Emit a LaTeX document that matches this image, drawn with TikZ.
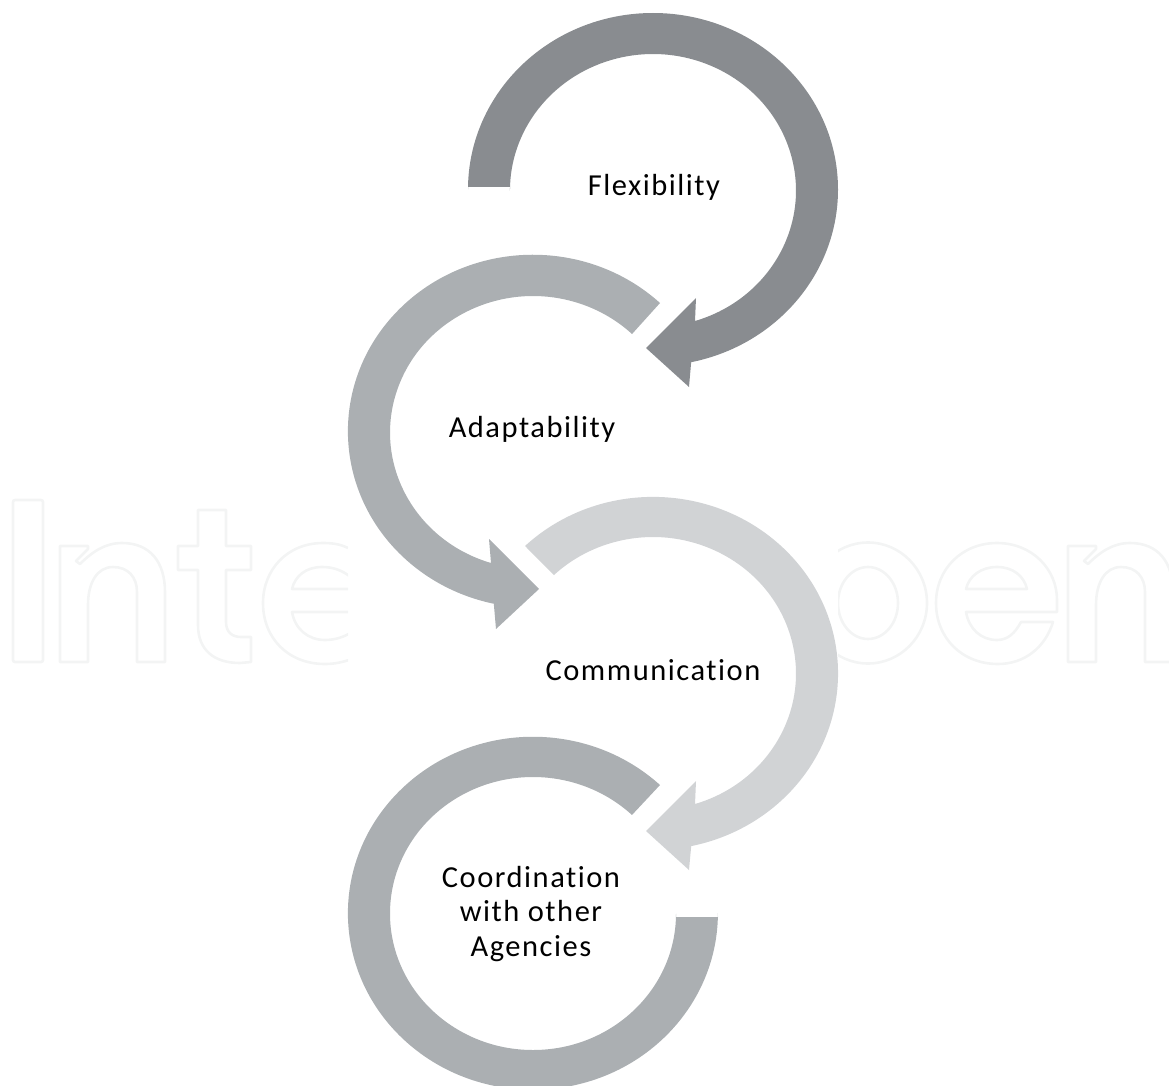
\documentclass[tikz,border=0pt]{standalone}
\usepackage{fontspec}
\setmainfont{Carlito}[LetterSpace=5,Ligatures={NoCommon,NoRequired,NoContextual,NoDiscretionary},RawFeature={-liga;-clig;-calt}]
\definecolor{ringA}{HTML}{898C90}
\definecolor{ringB}{HTML}{ABAFB2}
\definecolor{ringC}{HTML}{D1D3D5}
\definecolor{wm}{HTML}{F3F4F4}
\tikzset{
  lab/.style={font=\fontsize{30.5}{34.5}\selectfont,text=black,align=center,inner sep=0pt},
  wmark/.style={draw=wm,line width=2.6pt,line join=round},
  outer/.style={x radius=185pt,y radius=176.5pt},
  inner/.style={x radius=143pt,y radius=136.5pt}
}
\begin{document}
\begin{tikzpicture}[x=1pt,y=-1pt]
\useasboundingbox (0,0) rectangle (1169,1086);
\clip (0,0) rectangle (1169,1086);
% watermark, cut off by the white panel of the figure
\draw[wmark,rounded corners=2pt] (13,500) rectangle (43,662);
\begin{scope}[shift={(0,0)}]
\draw[wmark] (60,546) -- (88,546) -- (88,549) -- (76,561) -- (80,564)
  .. controls (92,552) and (105,543) .. (122,543)
  .. controls (150,543) and (165,562) .. (165,592) -- (165,662) -- (137,662) -- (137,592)
  .. controls (137,577) and (128,567) .. (113,567)
  .. controls (97,567) and (88,583) .. (88,605) -- (88,662) -- (60,662) -- cycle;
\end{scope}
\draw[wmark] (198,510) -- (226,510) -- (226,546) -- (251,546) -- (251,570) -- (226,570) -- (226,622)
  .. controls (226,632) and (232,637) .. (241,637) -- (251,637) -- (251,662) -- (240,663)
  .. controls (214,663) and (198,650) .. (198,625) -- (198,570) -- (178,570) -- (178,546) -- (198,546) -- cycle;
\begin{scope}
\clip (250,500) rectangle (348,680);
\draw[wmark] (348,548) .. controls (340,544) and (332,543) .. (323,543)
  .. controls (287,543) and (263,570) .. (263,603)
  .. controls (263,638) and (288,664) .. (325,664)
  .. controls (335,664) and (343,662) .. (352,659);
\draw[wmark] (352,589) -- (292,589) .. controls (295,576) and (306,567) .. (322,567) .. controls (333,567) and (342,570) .. (352,578);
\draw[wmark] (352,612) -- (292,612) .. controls (295,629) and (308,640) .. (325,640) .. controls (335,640) and (344,637) .. (352,632);
\end{scope}
\begin{scope}
\clip (838,500) rectangle (935,680);
\draw[wmark] (868,603) ellipse [x radius=59pt,y radius=60.5pt];
\draw[wmark] (868,603) ellipse [x radius=30pt,y radius=36pt];
\end{scope}
\draw[wmark] (1057,612) -- (966,612) .. controls (969,629) and (981,640) .. (997,640)
  .. controls (1008,640) and (1015,633) .. (1021,622) -- (1053,622)
  .. controls (1045,648) and (1024,664) .. (998,664)
  .. controls (962,664) and (936,638) .. (936,603)
  .. controls (936,569) and (962,543) .. (997,543)
  .. controls (1032,543) and (1057,569) .. (1057,600) -- cycle;
\draw[wmark] (966,589) .. controls (969,576) and (981,567) .. (997,567)
  .. controls (1013,567) and (1024,576) .. (1027,589) -- cycle;
\begin{scope}[shift={(1008,0)}]
\draw[wmark] (60,546) -- (88,546) -- (88,549) -- (76,561) -- (80,564)
  .. controls (92,552) and (105,543) .. (122,543)
  .. controls (150,543) and (165,562) .. (165,592) -- (165,662) -- (137,662) -- (137,592)
  .. controls (137,577) and (128,567) .. (113,567)
  .. controls (97,567) and (88,583) .. (88,605) -- (88,662) -- (60,662) -- cycle;
\end{scope}
% ring 1
\fill[ringA] (468,187) -- (468,189.5) arc[start angle=180,end angle=-78.1,outer]
  -- (689,387) -- (646,348) -- (696,298) -- (695,321)
  arc[start angle=-72.9,end angle=180,inner] -- (510,187) -- cycle;
% ring 2
\fill[ringB] (660,303) arc[start angle=46.6,end angle=257.8,outer]
  -- (496,629) -- (539,589) -- (489,539) -- (491,563)
  arc[start angle=252.9,end angle=46.2,inner] -- cycle;
% ring 3
\fill[ringC] (525,546) arc[start angle=133.8,end angle=-78.1,outer]
  -- (689,870) -- (646,831) -- (696,781) -- (695,804)
  arc[start angle=-72.9,end angle=133.8,inner] -- cycle;
% ring 4
\fill[ringB] (660,785) arc[start angle=46.6,end angle=360,outer]
  -- (718,917) -- (676,917) -- (676,913.5)
  arc[start angle=360,end angle=46.2,inner] -- cycle;
% labels
\node[lab] (flex) at (654,187) {Flexibility};
\node[lab] (adapt) at (532,429) {Adaptability};
\node[lab] (comm) at (653,670) {Communication};
\node[lab] (coord) at (531,914) {Coordination\\with other\\Agencies};
\end{tikzpicture}
\end{document}
